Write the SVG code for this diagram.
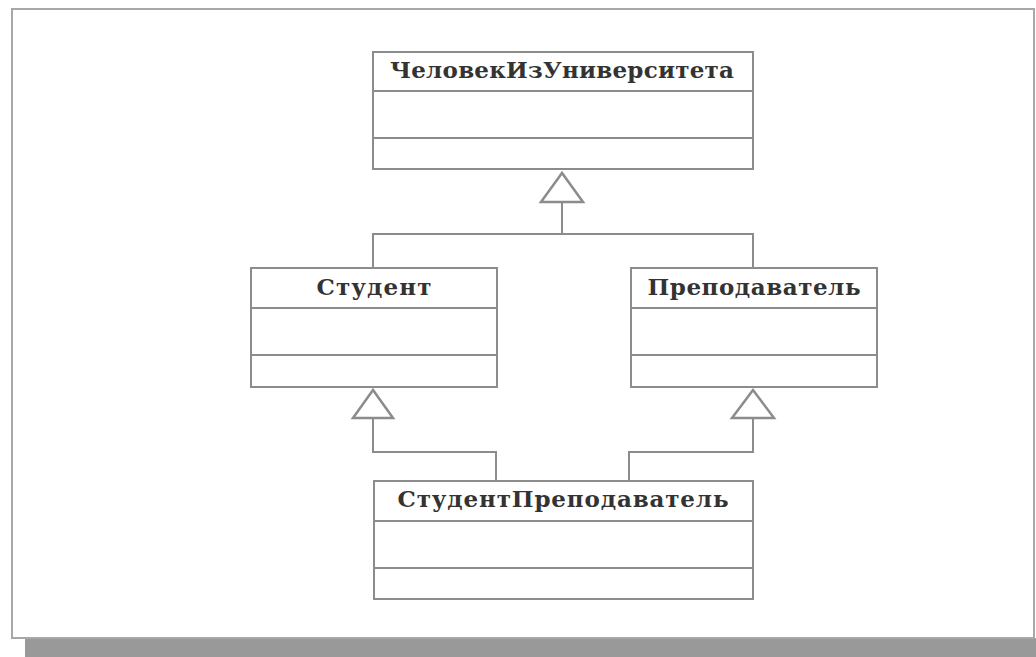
<svg xmlns="http://www.w3.org/2000/svg" width="1036" height="657" viewBox="0 0 1036 657">
  <style>
    .box { fill: #ffffff; stroke: #8c8c8c; stroke-width: 2; }
    .sep { stroke: #8c8c8c; stroke-width: 2; }
    .name { font-family: "DejaVu Serif", "Liberation Serif", serif; font-weight: bold; font-size: 23px; fill: #333333; text-anchor: middle; }
    .link { fill: none; stroke: #8c8c8c; stroke-width: 2; }
    .gen { fill: #ffffff; stroke: #8c8c8c; stroke-width: 2.5; stroke-linejoin: miter; }
  </style>
  <rect width="1036" height="657" fill="#ffffff"/>
  <!-- page shadow and frame -->
  <rect x="25" y="638" width="1011" height="19" fill="#999999"/>
  <rect x="12" y="9" width="1022" height="629" fill="#ffffff" stroke="#a8a8a8" stroke-width="2"/>

  <!-- connectors -->
  <g id="connectors">
    <polyline class="link" points="373,268 373,234 753,234 753,268"/>
    <line class="link" x1="562" y1="234" x2="562" y2="202"/>
    <polygon class="gen" points="562,173 541,202 583,202"/>
    <polyline class="link" points="373,418 373,452 496,452 496,481"/>
    <polygon class="gen" points="373,390 353,418 393,418"/>
    <polyline class="link" points="753,418 753,452 629,452 629,481"/>
    <polygon class="gen" points="753,390 732,418 774,418"/>
  </g>

  <g id="person">
    <rect class="box" x="373" y="52" width="380" height="117"/>
    <line class="sep" x1="373" y1="91" x2="753" y2="91"/>
    <line class="sep" x1="373" y1="138" x2="753" y2="138"/>
    <text class="name" x="562" y="78" textLength="344" lengthAdjust="spacing">ЧеловекИзУниверситета</text>
  </g>

  <g id="student">
    <rect class="box" x="251" y="268" width="246" height="119"/>
    <line class="sep" x1="251" y1="308" x2="497" y2="308"/>
    <line class="sep" x1="251" y1="355" x2="497" y2="355"/>
    <text class="name" x="374" y="295" textLength="115" lengthAdjust="spacing">Студент</text>
  </g>

  <g id="teacher">
    <rect class="box" x="631" y="268" width="246" height="119"/>
    <line class="sep" x1="631" y1="308" x2="877" y2="308"/>
    <line class="sep" x1="631" y1="355" x2="877" y2="355"/>
    <text class="name" x="754" y="295" textLength="213" lengthAdjust="spacing">Преподаватель</text>
  </g>

  <g id="student-teacher">
    <rect class="box" x="374" y="481" width="379" height="118"/>
    <line class="sep" x1="374" y1="521" x2="753" y2="521"/>
    <line class="sep" x1="374" y1="568" x2="753" y2="568"/>
    <text class="name" x="563" y="507" textLength="331" lengthAdjust="spacing">СтудентПреподаватель</text>
  </g>
</svg>
